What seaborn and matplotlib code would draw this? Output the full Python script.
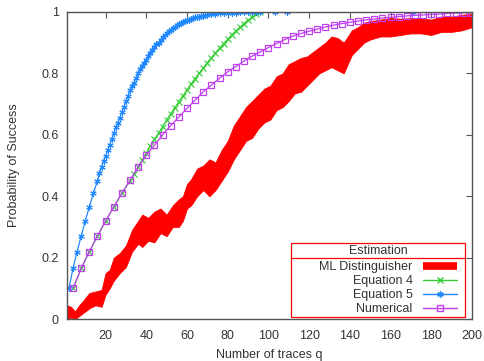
import matplotlib
matplotlib.use("Agg")
import matplotlib.pyplot as plt
from matplotlib.lines import Line2D
from matplotlib.patches import Rectangle
import seaborn as sns

# ---------------------------------------------------------------------------
# Data
# ---------------------------------------------------------------------------
# ML Distinguisher: noisy band, given as lower / upper envelope
ml_q = [1, 3, 5, 7, 9, 12, 15, 18, 20, 22, 24, 27, 30, 33, 36, 38, 41, 44, 47,
        50, 53, 56, 58, 60, 62, 65, 68, 71, 74, 77, 80, 83, 86, 89, 92, 95, 98,
        101, 104, 107, 110, 113, 116, 119, 122, 125, 128, 131, 134, 137, 139,
        141, 144, 147, 150, 155, 160, 165, 170, 175, 180, 185, 190, 195, 200]
ml_low = [0.00, 0.005, 0.0, 0.01, 0.02, 0.035, 0.045, 0.04, 0.08, 0.10, 0.125,
          0.15, 0.17, 0.22, 0.245, 0.235, 0.255, 0.25, 0.28, 0.27, 0.30, 0.30,
          0.32, 0.36, 0.37, 0.40, 0.42, 0.40, 0.42, 0.45, 0.48, 0.52, 0.55,
          0.58, 0.59, 0.62, 0.64, 0.65, 0.68, 0.69, 0.71, 0.735, 0.74, 0.76,
          0.78, 0.80, 0.81, 0.82, 0.81, 0.80, 0.83, 0.86, 0.88, 0.90, 0.91,
          0.92, 0.92, 0.925, 0.93, 0.93, 0.925, 0.935, 0.935, 0.94, 0.95]
ml_high = [0.045, 0.04, 0.025, 0.045, 0.06, 0.085, 0.09, 0.095, 0.15, 0.16,
           0.20, 0.215, 0.24, 0.29, 0.32, 0.34, 0.33, 0.35, 0.36, 0.34, 0.37,
           0.39, 0.40, 0.44, 0.455, 0.49, 0.50, 0.52, 0.51, 0.55, 0.58, 0.63,
           0.66, 0.69, 0.71, 0.73, 0.75, 0.76, 0.79, 0.80, 0.83, 0.84, 0.85,
           0.855, 0.87, 0.885, 0.90, 0.92, 0.915, 0.90, 0.92, 0.94, 0.95,
           0.965, 0.97, 0.975, 0.98, 0.978, 0.98, 0.98, 0.975, 0.985, 0.985,
           0.99, 0.995]

# Equation 4
eq4_q = [4, 8, 12, 16, 20, 24, 28, 32, 34, 36, 38, 40, 42, 44, 46, 48, 50, 52,
         54, 56, 58, 60, 62, 64, 66, 68, 70, 72, 74, 76, 78, 80, 82, 84, 86,
         88, 90, 92, 94, 96]
eq4_p = [0.10, 0.165, 0.22, 0.27, 0.32, 0.365, 0.41, 0.45, 0.472, 0.495,
         0.518, 0.54, 0.562, 0.585, 0.605, 0.627, 0.648, 0.668, 0.688, 0.708,
         0.727, 0.746, 0.765, 0.783, 0.80, 0.817, 0.835, 0.851, 0.867, 0.882,
         0.897, 0.911, 0.925, 0.938, 0.95, 0.962, 0.973, 0.983, 0.992, 1.0]

# Equation 5
eq5_q = [2, 4, 6, 8, 10, 12, 14, 16, 17, 18, 19, 20, 21, 22, 23, 24, 25, 26,
         27, 28, 29, 30, 31, 32, 33, 34, 35, 36, 37, 38, 39, 40, 41, 42, 43,
         44, 45, 46, 47, 48, 49, 50, 51, 52, 53, 54, 55, 56, 57, 58, 59, 60,
         61, 62, 63, 64, 65, 66, 67, 68, 69, 70, 72, 74, 76, 78, 80, 82, 84,
         86, 88, 90, 92, 94, 96, 103, 109, 171]
eq5_p = [0.10, 0.165, 0.22, 0.27, 0.32, 0.365, 0.41, 0.45, 0.475, 0.495,
         0.515, 0.53, 0.55, 0.567, 0.585, 0.605, 0.625, 0.64, 0.655, 0.675,
         0.69, 0.71, 0.725, 0.745, 0.76, 0.77, 0.785, 0.80, 0.815, 0.825,
         0.835, 0.845, 0.855, 0.865, 0.875, 0.885, 0.895, 0.90, 0.91, 0.917,
         0.925, 0.932, 0.937, 0.942, 0.947, 0.952, 0.956, 0.96, 0.964, 0.967,
         0.97, 0.973, 0.975, 0.978, 0.98, 0.982, 0.984, 0.985, 0.987, 0.988,
         0.989, 0.99, 0.992, 0.993, 0.995, 0.996, 0.997, 0.998, 0.998, 0.999,
         0.999, 1.0, 1.0, 1.0, 1.0, 1.0, 1.0, 1.0]

# Numerical
num_q = list(range(4, 201, 4))
num_p = [0.10, 0.165, 0.22, 0.27, 0.32, 0.365, 0.41, 0.452, 0.495, 0.533,
         0.566, 0.60, 0.63, 0.658, 0.686, 0.713, 0.74, 0.762, 0.784, 0.805,
         0.822, 0.84, 0.856, 0.87, 0.884, 0.897, 0.91, 0.921, 0.93, 0.937,
         0.944, 0.951, 0.957, 0.962, 0.966, 0.97, 0.974, 0.977, 0.98, 0.982,
         0.985, 0.987, 0.989, 0.99, 0.992, 0.993, 0.995, 0.996, 0.997, 0.998]

x_ticks = [20, 40, 60, 80, 100, 120, 140, 160, 180, 200]
y_ticks = [0, 0.2, 0.4, 0.6, 0.8, 1]
y_tick_labels = ["0", "0.2", "0.4", "0.6", "0.8", "1"]
labels = ["ML Distinguisher", "Equation 4", "Equation 5", "Numerical"]

COL = {
    "red": "#ff0000",
    "green": "#33cc33",
    "blue": "#2288ff",
    "purple": "#c040f0",
    "text": "#333333",
    "axis": "#555555",
}

sns.set_style("white")
plt.rcParams["font.family"] = ["Liberation Sans", "DejaVu Sans"]
plt.rcParams["font.size"] = 9

fig = plt.figure(figsize=(4.85, 3.61), dpi=100)
ax = fig.add_axes([0.138, 0.116, 0.835, 0.851])

# ML band
ax.fill_between(ml_q, ml_low, ml_high, color=COL["red"], lw=0.6,
                edgecolor=COL["red"])

sns.lineplot(x=eq4_q, y=eq4_p, ax=ax, color=COL["green"], lw=0.9,
             marker="x", markersize=4.5, markeredgewidth=0.8,
             markeredgecolor=COL["green"], estimator=None, sort=False)
sns.lineplot(x=eq5_q, y=eq5_p, ax=ax, color=COL["blue"], lw=0.9,
             marker=(6, 2, 0), markersize=4.5, markeredgewidth=0.8,
             markeredgecolor=COL["blue"], estimator=None, sort=False)
sns.lineplot(x=num_q, y=num_p, ax=ax, color=COL["purple"], lw=0.9,
             marker="s", markersize=4, markerfacecolor="none",
             markeredgecolor=COL["purple"], markeredgewidth=0.9,
             estimator=None, sort=False)

ax.set_xlim(1, 200)
ax.set_ylim(0, 1)
ax.set_xticks(x_ticks)
ax.set_yticks(y_ticks)
ax.set_yticklabels(y_tick_labels)
ax.tick_params(direction="in", length=4, width=0.8, top=True, right=True,
               colors=COL["axis"], labelcolor=COL["text"], labelsize=9)
ax.tick_params(axis="x", pad=8)
ax.tick_params(axis="y", pad=6)
for sp in ax.spines.values():
    sp.set_visible(True)
    sp.set_color(COL["axis"])
    sp.set_linewidth(1.0)

ax.set_xlabel("Number of traces q", color=COL["text"], fontsize=9, labelpad=5)
ax.set_ylabel("Probability of Success", color=COL["text"], fontsize=9,
              labelpad=15)

# legend: entries right-aligned, handles on the right
handles = [
    Line2D([], [], color=COL["red"], lw=5.5, solid_capstyle="butt"),
    Line2D([], [], color=COL["green"], lw=1, marker="x", markersize=4.5),
    Line2D([], [], color=COL["blue"], lw=1, marker=(6, 2, 0), markersize=4.5),
    Line2D([], [], color=COL["purple"], lw=1, marker="s", markersize=4,
           markerfacecolor="none"),
]
leg = ax.legend(handles, labels, loc="lower right",
                bbox_to_anchor=(0.963, 0.012), borderaxespad=0,
                markerfirst=False, frameon=False, borderpad=0,
                handlelength=2.75, labelspacing=0.17, handletextpad=0.8,
                fontsize=9)
for t in leg.get_texts():
    t.set_color(COL["text"])

# legend box with title row
ax.add_patch(Rectangle((0.553, 0.0065), 0.43, 0.241, transform=ax.transAxes,
                       fill=False, edgecolor=COL["red"], lw=0.9, zorder=5))
ax.plot([0.553, 0.983], [0.199, 0.199], transform=ax.transAxes,
        color=COL["red"], lw=0.9, zorder=5)
ax.text(0.768, 0.222, "Estimation", transform=ax.transAxes, ha="center",
        va="center", fontsize=9, color=COL["text"], zorder=6)

fig.savefig("out.png", dpi=100)
